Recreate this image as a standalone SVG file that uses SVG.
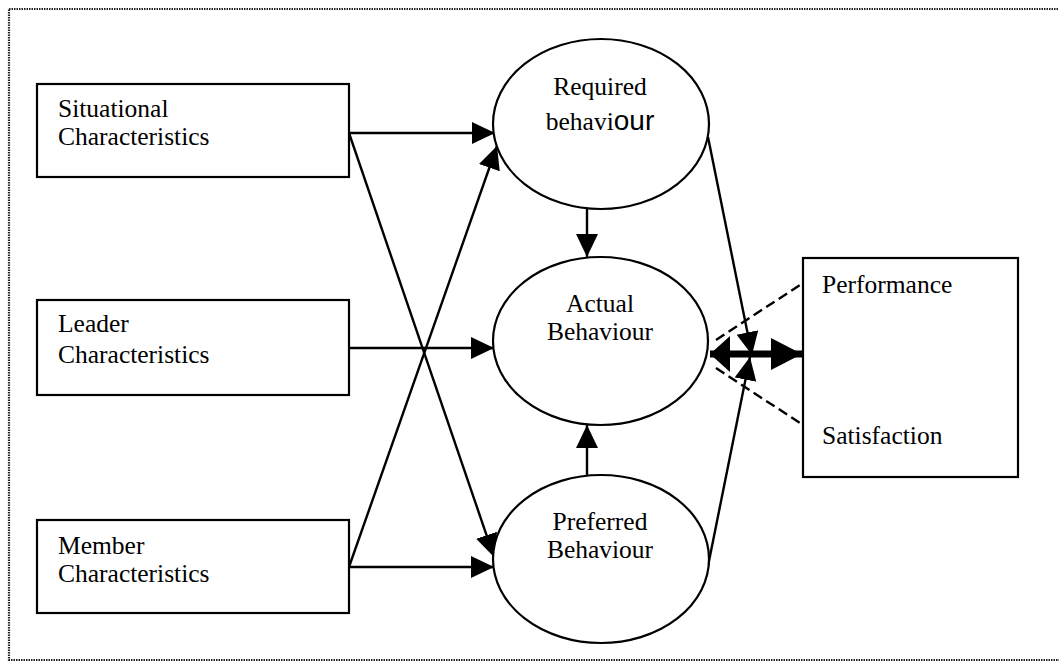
<svg xmlns="http://www.w3.org/2000/svg" width="1059" height="665" viewBox="0 0 1059 665">
  <style>
    .frame { fill: none; stroke: #222; stroke-width: 2.2; stroke-dasharray: 1.5 1; }
    .box { fill: #fff; stroke: #000; stroke-width: 2.2; }
    .oval { fill: #fff; stroke: #000; stroke-width: 2.2; }
    .lbl { font-family: "Liberation Serif", "Times New Roman", serif; font-size: 25.5px; fill: #000; }
    .mid { text-anchor: middle; }
    .wide { font-family: "Liberation Sans", Arial, sans-serif; font-size: 28px; }
    .link { fill: none; stroke: #000; stroke-width: 2.4; }
    .thick { fill: none; stroke: #000; stroke-width: 7; }
    .dash { fill: none; stroke: #000; stroke-width: 2.4; stroke-dasharray: 10 5; }
  </style>
  <defs>
    <marker id="tri" markerUnits="userSpaceOnUse" markerWidth="25" markerHeight="23" refX="23" refY="11" orient="auto" viewBox="0 0 25 23">
      <path d="M0,0 L23,11 L0,22 Z" fill="#000"/>
    </marker>
    <marker id="bigR" markerUnits="userSpaceOnUse" markerWidth="32" markerHeight="34" refX="31" refY="16" orient="auto" viewBox="0 0 32 34">
      <path d="M0,0 L31,16 L0,32 Z" fill="#000"/>
    </marker>
    <marker id="bigL" markerUnits="userSpaceOnUse" markerWidth="22" markerHeight="38" refX="1" refY="18" orient="auto" viewBox="0 0 22 38">
      <path d="M21,0 L1,18 L21,36 Z" fill="#000"/>
    </marker>
  </defs>

  <rect class="frame" x="9" y="9" width="1070" height="651"/>

  <g id="connectors">
    <line class="link" x1="349" y1="133" x2="495" y2="133" marker-end="url(#tri)"/>
    <line class="link" x1="349" y1="133" x2="494" y2="557" marker-end="url(#tri)"/>
    <line class="link" x1="349" y1="348" x2="494" y2="348" marker-end="url(#tri)"/>
    <line class="link" x1="349" y1="567" x2="497" y2="146" marker-end="url(#tri)"/>
    <line class="link" x1="349" y1="567" x2="494" y2="567" marker-end="url(#tri)"/>
    <line class="link" x1="587" y1="208" x2="587" y2="257" marker-end="url(#tri)"/>
    <line class="link" x1="587" y1="475" x2="587" y2="425" marker-end="url(#tri)"/>
    <line class="link" x1="708" y1="137" x2="752" y2="355" marker-end="url(#tri)"/>
    <line class="link" x1="708" y1="566" x2="750" y2="357" marker-end="url(#tri)"/>
    <line class="thick" x1="710" y1="354" x2="802" y2="354" marker-start="url(#bigL)" marker-end="url(#bigR)"/>
    <line class="dash" x1="716" y1="340" x2="803" y2="283"/>
    <line class="dash" x1="716" y1="368" x2="803" y2="425"/>
  </g>

  <g id="situational">
    <rect class="box" x="37" y="84" width="312" height="93"/>
    <text class="lbl" x="58" y="117">Situational</text>
    <text class="lbl" x="58" y="145">Characteristics</text>
  </g>

  <g id="leader">
    <rect class="box" x="37" y="300" width="312" height="95"/>
    <text class="lbl" x="58" y="332">Leader</text>
    <text class="lbl" x="58" y="363">Characteristics</text>
  </g>

  <g id="member">
    <rect class="box" x="37" y="520" width="312" height="93"/>
    <text class="lbl" x="58" y="554">Member</text>
    <text class="lbl" x="58" y="582">Characteristics</text>
  </g>

  <g id="required">
    <ellipse class="oval" cx="601" cy="124" rx="108" ry="85"/>
    <text class="lbl mid" x="600" y="95">Required</text>
    <text class="lbl mid" x="600" y="130">behavi<tspan class="wide">our</tspan></text>
  </g>

  <g id="actual">
    <ellipse class="oval" cx="600.5" cy="341" rx="107.5" ry="84"/>
    <text class="lbl mid" x="600" y="312">Actual</text>
    <text class="lbl mid" x="600" y="340">Behaviour</text>
  </g>

  <g id="preferred">
    <ellipse class="oval" cx="601" cy="559" rx="108" ry="84"/>
    <text class="lbl mid" x="600" y="530">Preferred</text>
    <text class="lbl mid" x="600" y="558">Behaviour</text>
  </g>

  <g id="outcomes">
    <rect class="box" x="803" y="258" width="215" height="219"/>
    <text class="lbl" x="822" y="293">Performance</text>
    <text class="lbl" x="822" y="444">Satisfaction</text>
  </g>
</svg>
